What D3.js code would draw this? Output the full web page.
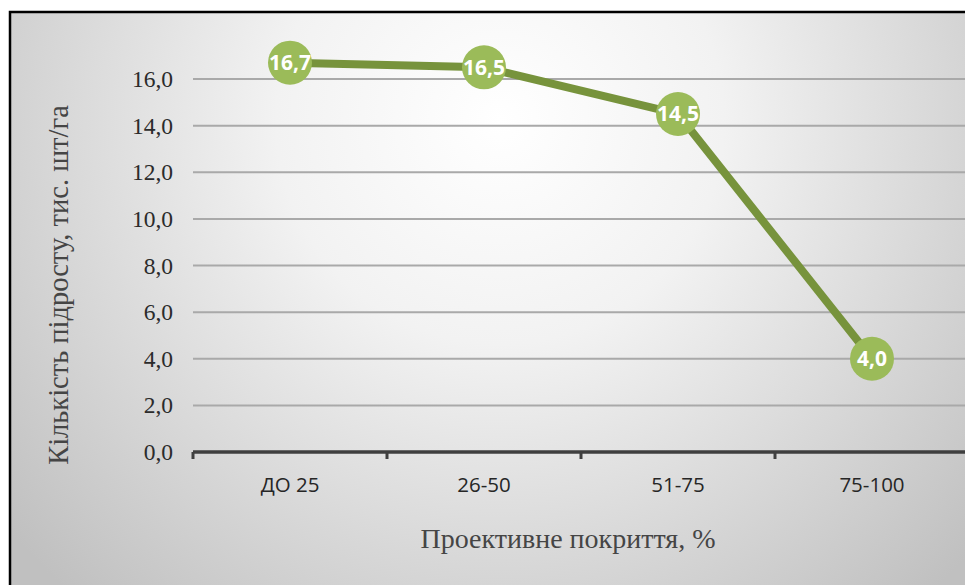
<!DOCTYPE html>
<html>
<head>
<meta charset="utf-8">
<script src="https://cdn.jsdelivr.net/npm/d3@7/dist/d3.min.js"></script>
<style>
  html, body { margin: 0; padding: 0; background: #ffffff; }
  svg { display: block; }
</style>
</head>
<body>
<script>
// Data: seedling count by projective cover class
const categories = ["ДО 25", "26-50", "51-75", "75-100"];
const values = [16.7, 16.5, 14.5, 4.0];
const yTicks = [0, 2, 4, 6, 8, 10, 12, 14, 16];
const yTitle = "Кількість підросту, тис. шт/га";
const xTitle = "Проективне покриття, %";

const W = 965, H = 585;
const fmt = v => v.toFixed(1).replace(".", ",");

const svg = d3.select("body").append("svg")
  .attr("width", W).attr("height", H);

// Chart area background: soft radial gradient framed by a dark border
const defs = svg.append("defs");
const grad = defs.append("radialGradient")
  .attr("id", "bg")
  .attr("gradientUnits", "userSpaceOnUse")
  .attr("cx", 500).attr("cy", 120).attr("r", 640);
grad.append("stop").attr("offset", "0%").attr("stop-color", "#ffffff");
grad.append("stop").attr("offset", "35%").attr("stop-color", "#f2f2f2");
grad.append("stop").attr("offset", "100%").attr("stop-color", "#c0c0c0");

svg.append("rect")
  .attr("x", 10).attr("y", 12)
  .attr("width", 1000).attr("height", 700)
  .attr("fill", "url(#bg)")
  .attr("stroke", "#000000")
  .attr("stroke-width", 2.5);

// Scales
const x = d3.scaleBand().domain(categories).range([193, 969]);
const y = d3.scaleLinear().domain([0, 16]).range([452, 79]);
const cx = c => x(c) + x.bandwidth() / 2;

// Horizontal gridlines
svg.append("g")
  .selectAll("line")
  .data(yTicks.filter(t => t > 0))
  .join("line")
  .attr("x1", 193).attr("x2", 969)
  .attr("y1", d => y(d)).attr("y2", d => y(d))
  .attr("stroke", "#a9a9a9")
  .attr("stroke-width", 2);

// Y tick labels
svg.append("g")
  .selectAll("text")
  .data(yTicks)
  .join("text")
  .attr("x", 173)
  .attr("y", d => y(d) + 8)
  .attr("text-anchor", "end")
  .attr("font-family", "'Liberation Serif', 'Times New Roman', serif")
  .attr("font-size", 23.5)
  .attr("fill", "#2b2b2b")
  .text(fmt);

// Category axis: baseline with ticks at band boundaries
const xAxis = d3.axisBottom(x)
  .tickSize(0)
  .tickFormat("");
const gx = svg.append("g")
  .attr("transform", `translate(0,${y(0)})`)
  .call(xAxis);
gx.select(".domain").remove();
gx.append("line")
  .attr("x1", 193).attr("x2", 969)
  .attr("y1", 0).attr("y2", 0)
  .attr("stroke", "#3f3f3f")
  .attr("stroke-width", 3.5);
const boundaries = categories.map(c => x(c)).concat([x.range()[1]]);
gx.selectAll("line.tick-mark")
  .data(boundaries)
  .join("line")
  .attr("class", "tick-mark")
  .attr("x1", d => d).attr("x2", d => d)
  .attr("y1", 0).attr("y2", 7)
  .attr("stroke", "#3f3f3f")
  .attr("stroke-width", 3);

// Category labels
svg.append("g")
  .selectAll("text")
  .data(categories)
  .join("text")
  .attr("x", d => cx(d))
  .attr("y", 492)
  .attr("text-anchor", "middle")
  .attr("font-family", "'Open Sans', 'Noto Sans', sans-serif")
  .attr("font-size", 20.5)
  .attr("fill", "#262626")
  .text(d => d);

// Axis titles
svg.append("text")
  .attr("transform", "translate(68,285) rotate(-90)")
  .attr("text-anchor", "middle")
  .attr("font-family", "'Liberation Serif', 'Times New Roman', serif")
  .attr("font-size", 28.5)
  .attr("fill", "#454545")
  .text(yTitle);

svg.append("text")
  .attr("x", 568).attr("y", 548)
  .attr("text-anchor", "middle")
  .attr("font-family", "'Liberation Serif', 'Times New Roman', serif")
  .attr("font-size", 28)
  .attr("fill", "#454545")
  .text(xTitle);

// Series line
const line = d3.line()
  .x((d, i) => cx(categories[i]))
  .y(d => y(d));
svg.append("path")
  .datum(values)
  .attr("d", line)
  .attr("fill", "none")
  .attr("stroke", "#77933c")
  .attr("stroke-width", 8)
  .attr("stroke-linejoin", "round");

// Markers with value labels
const pts = svg.append("g")
  .selectAll("g")
  .data(values)
  .join("g")
  .attr("transform", (d, i) => `translate(${cx(categories[i])},${y(d)})`);
pts.append("circle")
  .attr("r", 22)
  .attr("fill", "#9bbb59");
pts.append("text")
  .attr("y", 7.5)
  .attr("text-anchor", "middle")
  .attr("font-family", "'Open Sans', 'Noto Sans', sans-serif")
  .attr("font-weight", "bold")
  .attr("font-size", 21)
  .attr("fill", "#ffffff")
  .text(fmt);
</script>
</body>
</html>
